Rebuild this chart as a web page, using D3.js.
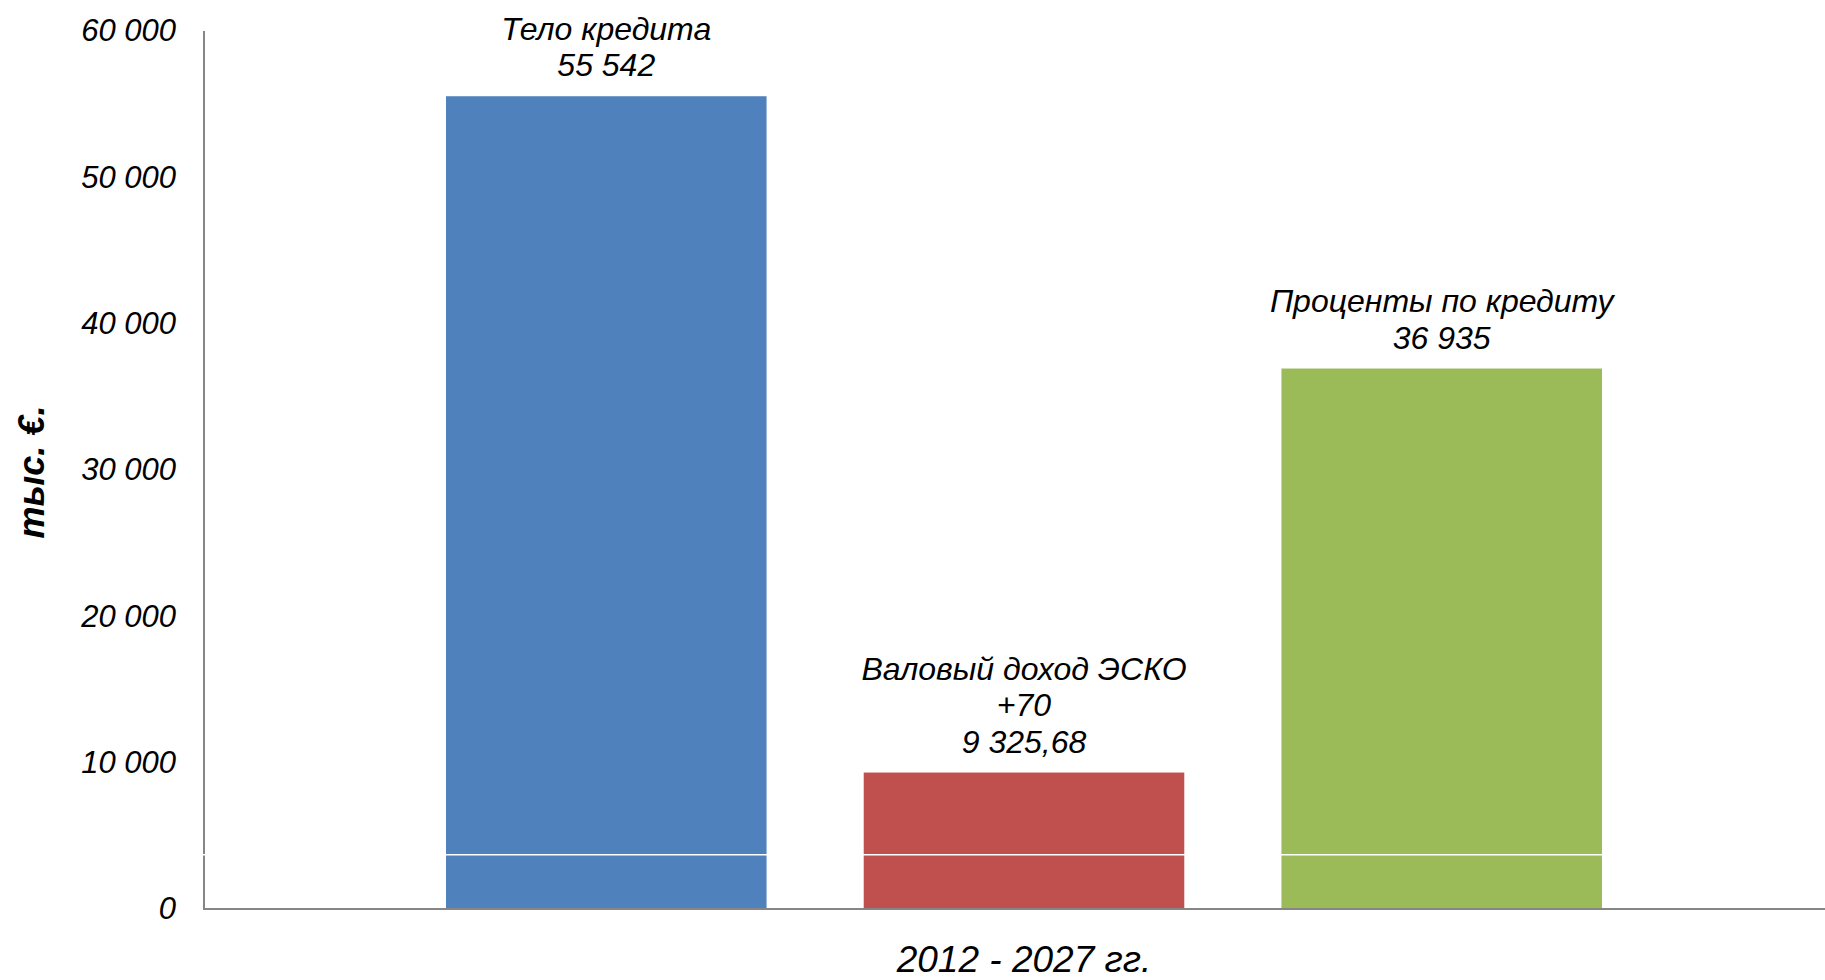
<!DOCTYPE html>
<html>
<head>
<meta charset="utf-8">
<script src="https://cdn.jsdelivr.net/npm/d3@7"></script>
<style>
  html, body { margin: 0; padding: 0; background: #fff; }
  svg { display: block; font-family: "Liberation Sans", Arial, sans-serif; }
</style>
</head>
<body>
<svg id="chart" width="1825" height="980"></svg>
<script>
// Loan structure over the period, thousand euro
const category = "2012 - 2027 гг.";
const seriesNames = ["Тело кредита", "Валовый доход ЭСКО", "Проценты по кредиту"];
const seriesValues = [55542, 9325.68, 36935];
const seriesExtra = [null, "+70", null];
const seriesColors = ["#4F81BD", "#C0504D", "#9BBB59"];
const yTicks = [0, 10000, 20000, 30000, 40000, 50000, 60000];
const yTitle = "тыс. €.";
const dividerValue = 3700;

const W = 1825, H = 980;
const plot = { left: 204, right: 1825, top: 31, bottom: 909 };

const locale = d3.formatLocale({ decimal: ",", thousands: " ", grouping: [3], currency: ["", ""] });
const fmtInt = locale.format(",d");
const fmtLabel = v => Number.isInteger(v) ? fmtInt(v) : locale.format(",.2f")(v);

const svg = d3.select("#chart");

const y = d3.scaleLinear().domain([0, 60000]).range([plot.bottom, plot.top]);

// single category spanning the plot; series bands inside it
const x0 = d3.scaleBand().domain([category]).range([plot.left, plot.right]);
const x1 = d3.scaleBand().domain(seriesNames).range([446, 1602]).paddingInner(0.2326).paddingOuter(0);

const data = seriesNames.map((name, i) => ({
  name, value: seriesValues[i], extra: seriesExtra[i], color: seriesColors[i]
}));

// bars
svg.append("g").selectAll("rect").data(data).join("rect")
  .attr("x", d => x1(d.name))
  .attr("width", x1.bandwidth())
  .attr("y", d => y(d.value))
  .attr("height", d => y(0) - y(d.value))
  .attr("fill", d => d.color);

// y axis: labels only, plus the vertical line
const yAxis = d3.axisLeft(y).tickValues(yTicks).tickSize(0).tickPadding(28).tickFormat(fmtInt);
const gy = svg.append("g").attr("transform", `translate(${plot.left},0)`).call(yAxis);
gy.select(".domain").remove();
gy.selectAll("text")
  .attr("font-size", 31).attr("font-style", "italic").attr("fill", "#000")
  .attr("font-family", "Liberation Sans, Arial, sans-serif");

svg.append("line")
  .attr("x1", plot.left).attr("x2", plot.left)
  .attr("y1", y(60000)).attr("y2", y(0))
  .attr("stroke", "#868686").attr("stroke-width", 2);

// x axis baseline
svg.append("line")
  .attr("x1", plot.left - 1).attr("x2", plot.right)
  .attr("y1", y(0)).attr("y2", y(0))
  .attr("stroke", "#868686").attr("stroke-width", 2);

// thin white divider across the plot
svg.append("line")
  .attr("x1", plot.left - 2).attr("x2", plot.right)
  .attr("y1", y(dividerValue)).attr("y2", y(dividerValue))
  .attr("stroke", "#fff").attr("stroke-width", 1.5);

// category label, centred on the category's middle series
svg.append("text")
  .attr("x", x1(seriesNames[1]) + x1.bandwidth() / 2)
  .attr("y", 972)
  .attr("text-anchor", "middle")
  .attr("font-size", 37).attr("font-style", "italic")
  .text(category);

// y title
svg.append("text")
  .attr("transform", `translate(44,472) rotate(-90)`)
  .attr("text-anchor", "middle")
  .attr("font-size", 36).attr("font-style", "italic").attr("font-weight", "bold")
  .text(yTitle);

// data labels above bars
const lineH = 36.5;
const lg = svg.append("g").selectAll("text").data(data).join("text")
  .attr("text-anchor", "middle")
  .attr("font-size", 32).attr("font-style", "italic").attr("fill", "#000");
lg.each(function(d) {
  const lines = [d.name];
  if (d.extra) lines.push(d.extra);
  lines.push(fmtLabel(d.value));
  const cx = x1(d.name) + x1.bandwidth() / 2;
  const base = y(d.value) - 20;
  const t = d3.select(this);
  lines.forEach((s, k) => {
    t.append("tspan")
      .attr("x", cx)
      .attr("y", base - (lines.length - 1 - k) * lineH)
      .text(s);
  });
});
</script>
</body>
</html>
